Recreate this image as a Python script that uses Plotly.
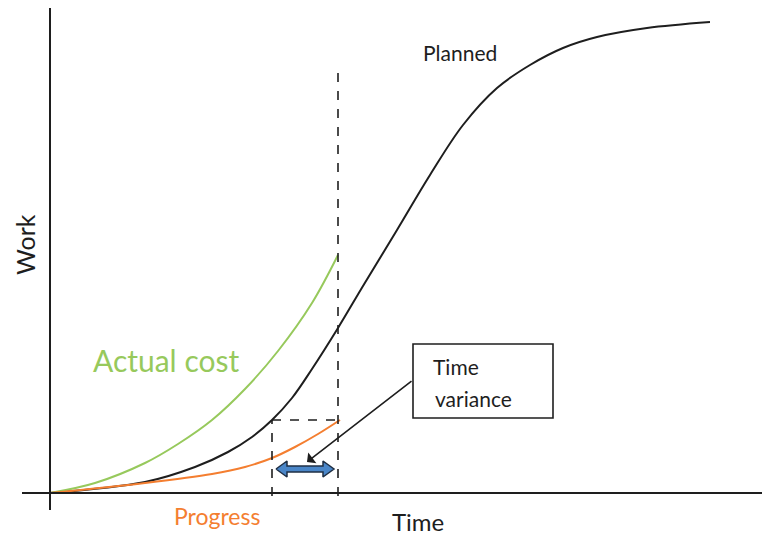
import plotly.graph_objects as go

# Hand-drawn "time variance" diagram.
# Units: time / work in screen-sized units, origin at the axes corner.

time_planned = [0, 95, 145, 178, 202, 222, 242, 262, 288, 313, 347, 380, 413, 447, 480, 513, 547, 597, 660]
work_planned = [0, 11, 26, 41, 56, 73, 95, 124, 165, 207, 263, 318, 368, 405, 428, 445, 456, 465, 471]

time_actual = [0, 45, 95, 128, 162, 195, 228, 262, 288]
work_actual = [0, 10, 30, 49, 73, 104, 142, 190, 238]

time_progress = [0, 95, 162, 195, 222, 245, 268, 290]
work_progress = [0, 10, 19, 26, 35, 46, 59, 73]

status_time = 288      # reporting date (vertical dashed line)
status_top = 425
earned_time = 222      # when planned work equalled today's progress
earned_work = 73
variance_level = 24    # height of the double arrow

BLACK = "#1e1e1e"
GREEN = "#97c95c"
ORANGE = "#f47e30"
BLUE = "#4a86c8"
FONT = "Lato"

fig = go.Figure()

curve = dict(width=2, shape="spline", smoothing=1.0)
fig.add_trace(go.Scatter(
    x=time_planned, y=work_planned, mode="lines",
    line=dict(color=BLACK, **curve),
    name="Planned", hoverinfo="skip",
))
fig.add_trace(go.Scatter(
    x=time_actual, y=work_actual, mode="lines",
    line=dict(color=GREEN, **curve),
    name="Actual cost", hoverinfo="skip",
))
fig.add_trace(go.Scatter(
    x=time_progress, y=work_progress, mode="lines",
    line=dict(color=ORANGE, **curve),
    name="Progress", hoverinfo="skip",
))

# ── axes drawn by hand ────────────────────────────────────────────────
axis_line = dict(color=BLACK, width=2)
fig.add_shape(type="line", x0=0, x1=0, y0=-17, y1=488, line=axis_line)
fig.add_shape(type="line", x0=-28, x1=718, y0=0, y1=0, line=axis_line)

# ── dashed guides ─────────────────────────────────────────────────────
dash = dict(color=BLACK, width=1.6, dash="9px,9px")
fig.add_shape(type="line", x0=status_time, x1=status_time, y0=-3, y1=status_top, line=dash)
fig.add_shape(type="line", x0=earned_time, x1=earned_time, y0=-3, y1=earned_work, line=dash)
fig.add_shape(type="line", x0=earned_time, x1=status_time, y0=earned_work, y1=earned_work, line=dash)

# ── time-variance double arrow (fat, outlined) ───────────────────────
x0, x1, yc = earned_time + 4, status_time - 4, variance_level
hl, hh, sh = 11, 8, 3   # head length, head half-height, shaft half-height
arrow_x = [x0, x0 + hl, x0 + hl, x1 - hl, x1 - hl, x1, x1 - hl, x1 - hl, x0 + hl, x0 + hl, x0]
arrow_y = [yc, yc + hh, yc + sh, yc + sh, yc + hh, yc, yc - hh, yc - sh, yc - sh, yc - hh, yc]
fig.add_trace(go.Scatter(
    x=arrow_x, y=arrow_y, mode="lines", fill="toself",
    fillcolor=BLUE, line=dict(color="#1f2f44", width=1.5),
    hoverinfo="skip",
))

# ── callout box ───────────────────────────────────────────────────────
fig.add_shape(type="rect", x0=363, x1=503, y0=75, y1=149,
              line=dict(color=BLACK, width=1.6), fillcolor="white")
fig.add_annotation(
    x=257, y=31, ax=363, ay=113,
    xref="x", yref="y", axref="x", ayref="y",
    text="", showarrow=True, arrowhead=1, arrowsize=1.4,
    arrowwidth=1.6, arrowcolor=BLACK,
)
fig.add_annotation(x=381, y=127, text="Time", showarrow=False, xanchor="left",
                   font=dict(family=FONT, size=21, color=BLACK))
fig.add_annotation(x=383, y=95, text="variance", showarrow=False, xanchor="left",
                   font=dict(family=FONT, size=21, color=BLACK))

# ── labels ────────────────────────────────────────────────────────────
fig.add_annotation(x=410, y=441, text="Planned", showarrow=False,
                   font=dict(family=FONT, size=21, color=BLACK))
fig.add_annotation(x=116, y=133, text="Actual cost", showarrow=False,
                   font=dict(family=FONT, size=30, color=GREEN))
fig.add_annotation(x=167, y=-23, text="Progress", showarrow=False,
                   font=dict(family=FONT, size=23, color=ORANGE))
fig.add_annotation(x=368, y=-28, text="Time", showarrow=False,
                   font=dict(family=FONT, size=24, color=BLACK))
fig.add_annotation(x=-25, y=248, text="Work", showarrow=False, textangle=-90,
                   font=dict(family=FONT, size=25, color=BLACK))

# the page body adds an 8px margin, so the figure is 8px short each way
fig.update_layout(
    width=762, height=528,
    margin=dict(l=0, r=0, t=0, b=0),
    plot_bgcolor="white", paper_bgcolor="white",
    xaxis=dict(range=[-42, 720], visible=False, fixedrange=True),
    yaxis=dict(range=[-43, 485], visible=False, fixedrange=True),
    showlegend=False,
)

fig.write_html("out.html")
